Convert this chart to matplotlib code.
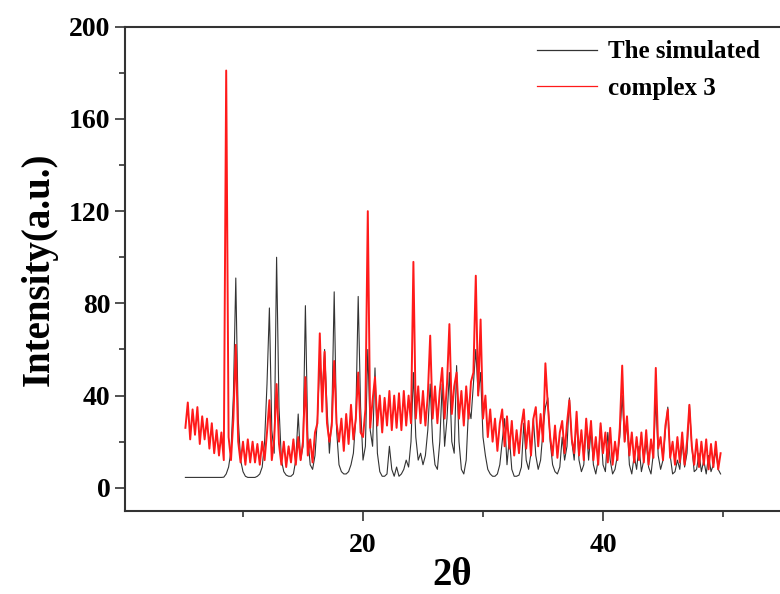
import numpy as np
import matplotlib
matplotlib.use("Agg")
import matplotlib.pyplot as plt

plt.rcParams['font.family'] = ['Liberation Serif', 'DejaVu Serif']
plt.rcParams['font.weight'] = 'bold'

# 2theta grid, step 0.2 deg, 5.2 .. 49.8
two_theta = np.round(np.arange(5.2, 49.81, 0.2), 1)

# simulated pattern (one row per degree)
simulated = [
    4.5, 4.5, 4.5, 4.5,
    4.5, 4.5, 4.5, 4.5, 4.5,
    4.5, 4.5, 4.5, 4.5, 4.5,
    4.5, 4.5, 4.6, 6, 9,
    16, 40, 91, 30, 12,
    7, 5, 4.5, 4.5, 4.5,
    4.5, 5, 6, 9, 20,
    45, 78, 25, 15, 100,
    35, 12, 7, 5.5, 5,
    5, 6, 12, 32, 12,
    18, 79, 22, 10, 8,
    14, 30, 55, 40, 60,
    35, 15, 30, 85, 25,
    10, 7, 6, 6, 7,
    10, 15, 30, 83, 35,
    12, 18, 60, 25, 18,
    52, 15, 7, 5, 5,
    6, 18, 8, 5, 9,
    5, 6, 8, 12, 9,
    20, 50, 22, 12, 15,
    10, 14, 25, 45, 20,
    10, 8, 20, 45, 18,
    30, 50, 20, 15, 53,
    20, 8, 6, 12, 35,
    30, 45, 60, 40, 50,
    22, 14, 8, 6, 5,
    5, 6, 10, 20, 30,
    10, 22, 8, 5, 5,
    5.5, 9, 28, 12, 8,
    15, 30, 14, 8, 12,
    25, 35, 39, 20, 10,
    7, 6, 9, 22, 12,
    18, 39, 20, 12, 30,
    12, 7, 10, 28, 12,
    25, 10, 6, 12, 27,
    10, 7, 24, 12, 6,
    8, 14, 22, 40, 20,
    28, 10, 6, 14, 8,
    18, 7, 12, 20, 9,
    6, 15, 38, 14, 8,
    12, 25, 35, 14, 6,
    7, 12, 8, 20, 9,
    15, 36, 18, 7, 8,
    15, 7, 12, 6, 14,
    7, 10, 16, 8, 6,
]

# measured pattern of complex 3
complex3 = [
    26, 37, 21, 34,
    23, 35, 19, 31, 21,
    30, 17, 28, 15, 25,
    14, 24, 12, 181, 22,
    12, 30, 62, 20, 11,
    20, 10, 21, 11, 20,
    11, 19, 10, 20, 12,
    24, 38, 12, 21, 45,
    19, 10, 20, 9, 18,
    11, 21, 10, 22, 12,
    20, 48, 14, 21, 11,
    24, 28, 67, 33, 59,
    28, 20, 27, 55, 28,
    20, 30, 16, 32, 19,
    36, 21, 30, 50, 24,
    22, 34, 120, 26, 38,
    48, 27, 40, 24, 39,
    27, 42, 25, 40, 26,
    41, 25, 42, 27, 40,
    28, 98, 30, 44, 28,
    42, 27, 40, 66, 30,
    44, 28, 42, 52, 30,
    45, 71, 32, 44, 50,
    30, 42, 27, 44, 30,
    46, 50, 92, 40, 73,
    30, 40, 22, 34, 20,
    30, 16, 28, 34, 18,
    31, 17, 29, 14, 25,
    15, 27, 34, 17, 29,
    14, 30, 35, 18, 32,
    20, 54, 36, 22, 14,
    27, 13, 24, 29, 15,
    28, 38, 21, 15, 33,
    14, 25, 12, 30, 17,
    29, 12, 22, 10, 28,
    15, 24, 11, 26, 10,
    20, 12, 26, 53, 20,
    31, 14, 24, 11, 22,
    12, 24, 11, 25, 10,
    21, 13, 52, 17, 22,
    12, 27, 34, 13, 20,
    10, 22, 11, 24, 10,
    20, 36, 18, 10, 21,
    9, 20, 10, 21, 8,
    19, 9, 20, 8, 15,
]

series_labels = ['The simulated', 'complex 3']
x_ticks = [20, 40]
y_ticks = [0, 40, 80, 120, 160, 200]

fig = plt.figure(figsize=(7.8, 5.94), dpi=100)
ax = fig.add_axes([0.1603, 0.14, 0.8397, 0.815])

ax.plot(two_theta, simulated, color='#333333', lw=0.8, label=series_labels[0])
ax.plot(two_theta, complex3, color='#ff1a1a', lw=1.4, label=series_labels[1])

ax.set_xlim(0.17, 54.75)
ax.set_ylim(-10, 200)
ax.set_xticks(x_ticks)
ax.set_xticks([10, 30, 50], minor=True)
ax.set_yticks(y_ticks)
ax.set_yticks([20, 60, 100, 140, 180], minor=True)
ax.tick_params(axis='both', which='major', direction='out', length=7, width=1.2,
               labelsize=20, color='#333333')
ax.tick_params(axis='x', which='major', pad=9)
ax.tick_params(axis='both', which='minor', direction='out', length=4, width=1.2,
               color='#333333')
for side in ['left', 'bottom', 'top']:
    ax.spines[side].set_linewidth(1.5)
    ax.spines[side].set_color('#333333')
ax.spines['right'].set_visible(False)

ax.set_xlabel('2θ', fontsize=28, fontweight='bold', labelpad=-1)
ax.set_ylabel('Intensity(a.u.)', fontsize=28, fontweight='bold', labelpad=8)

leg = fig.legend(loc='upper left', bbox_to_anchor=(0.672, 0.953), frameon=False,
                 fontsize=18, handlelength=2.4, handletextpad=0.45, labelspacing=0.55,
                 borderpad=0.0)
for t in leg.get_texts():
    t.set_fontweight('bold')
for h in leg.get_lines():
    h.set_linewidth(0.9)

fig.savefig('out.png', dpi=100)
